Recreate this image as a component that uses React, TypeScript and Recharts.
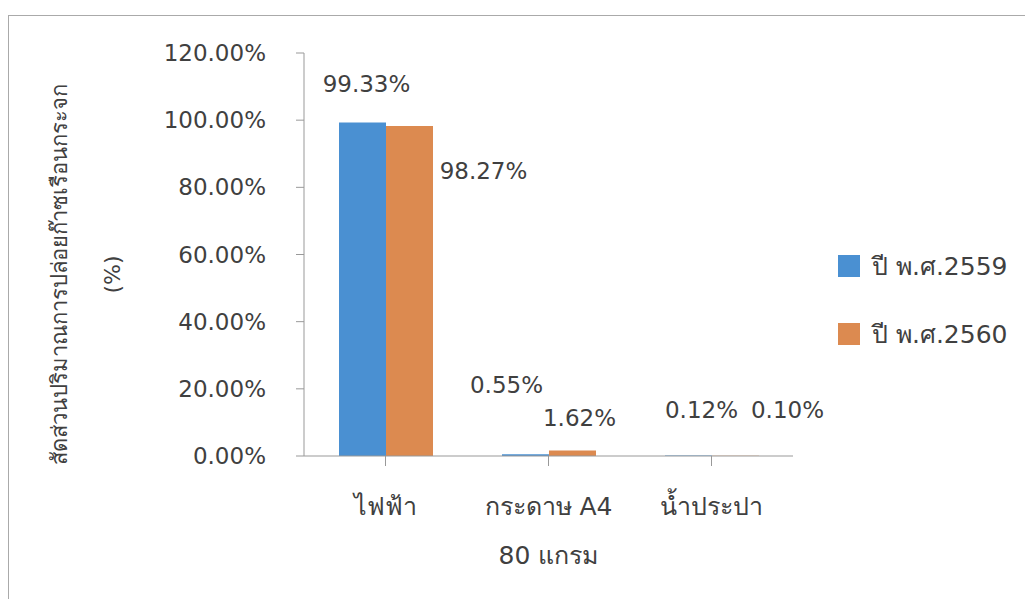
import React from "react";
import { BarChart, Bar, XAxis, YAxis, Legend, LabelList } from "recharts";

const categories = ["ไฟฟ้า", "กระดาษ A4|80 แกรม", "น้ำประปา"];
const series2559 = [99.33, 0.55, 0.12];
const series2560 = [98.27, 1.62, 0.1];
const seriesNames = ["ปี พ.ศ.2559", "ปี พ.ศ.2560"];
const yTicks = [0, 20, 40, 60, 80, 100, 120];
const yTitle = ["สัดส่วนปริมาณการปล่อยก๊าซเรือนกระจก", "(%)"];

const data = categories.map((c, i) => ({ name: c, a: series2559[i], b: series2560[i] }));

const COLORS = ["#4a90d2", "#dc8a50"];
const TEXT = "#404040";
const FONT = "'DejaVu Sans', 'Noto Sans', sans-serif";
const FS = 23;

// label offsets relative to bar center / bar top (layout only)
const offA = [
  [4, -38],
  [-19, -69],
  [13, -46],
];
const offB = [
  [74, 45],
  [7, -33],
  [52, -46],
];

const makeLabel = (offs: number[][]) => (props: any) => {
  const { x, y, width, value, index } = props;
  const [dx, dy] = offs[index] || [0, 0];
  return (
    <text
      x={Number(x) + Number(width) / 2 + dx}
      y={Number(y) + dy}
      textAnchor="middle"
      dominantBaseline="central"
      fill={TEXT}
      fontSize={FS}
      fontFamily={FONT}
    >
      {Number(value).toFixed(2) + "%"}
    </text>
  );
};

const XTick = (props: any) => {
  const { x, y, payload } = props;
  const lines = String(payload.value).split("|");
  return (
    <g>
      {lines.map((l, i) => (
        <text
          key={i}
          x={x}
          y={y + 38 + i * 49}
          textAnchor="middle"
          dominantBaseline="central"
          fill={TEXT}
          fontSize={25}
          fontFamily={FONT}
        >
          {l}
        </text>
      ))}
    </g>
  );
};

const YTitle = (props: any) => {
  const vb = props.viewBox || {};
  const cy = (vb.y ?? 53) + (vb.height ?? 403) / 2 + 20;
  return (
    <g>
      <text
        x={59}
        y={cy}
        transform={`rotate(-90, 59, ${cy})`}
        textAnchor="middle"
        dominantBaseline="central"
        fill={TEXT}
        fontSize={22}
        fontFamily={FONT}
      >
        {yTitle[0]}
      </text>
      <text
        x={112}
        y={cy}
        transform={`rotate(-90, 112, ${cy})`}
        textAnchor="middle"
        dominantBaseline="central"
        fill={TEXT}
        fontSize={22}
        fontFamily={FONT}
      >
        {yTitle[1]}
      </text>
    </g>
  );
};

const LegendContent = () => (
  <div style={{ paddingLeft: 45, fontFamily: FONT, fontSize: 25, color: TEXT }}>
    {seriesNames.map((n, i) => (
      <div key={n} style={{ display: "flex", alignItems: "center", height: 34, marginBottom: i === 0 ? 34 : 0 }}>
        <span style={{ display: "inline-block", width: 22, height: 22, background: COLORS[i], marginRight: 12 }} />
        <span>{n}</span>
      </div>
    ))}
  </div>
);

export default function App() {
  return (
    <div style={{ position: "absolute", left: 0, top: 0, width: 1025, height: 599, background: "#fff", overflow: "hidden" }}>
      <div
        style={{
          position: "absolute",
          left: 8,
          top: 15,
          width: 1100,
          height: 700,
          borderLeft: "1px solid #aaa",
          borderTop: "1px solid #aaa",
        }}
      />
      <div style={{ position: "absolute", left: 0, top: 0 }}>
        <BarChart
          width={1025}
          height={599}
          data={data}
          margin={{ top: 53, right: 13, bottom: 43, left: 0 }}
          barCategoryGap={35}
          barGap={0}
        >
          <XAxis
            dataKey="name"
            height={100}
            tick={<XTick />}
            tickLine={{ stroke: "#999" }}
            axisLine={{ stroke: "#999" }}
            tickSize={10}
            interval={0}
          />
          <YAxis
            width={304}
            domain={[0, 120]}
            ticks={yTicks}
            tickFormatter={(v: number) => v.toFixed(2) + "%"}
            tick={{ fill: TEXT, fontSize: FS, fontFamily: FONT }}
            tickLine={{ stroke: "#999" }}
            axisLine={{ stroke: "#999" }}
            tickSize={8}
            tickMargin={30}
            label={{ content: <YTitle /> } as any}
          />
          <Legend
            layout="vertical"
            align="right"
            verticalAlign="middle"
            wrapperStyle={{ width: 219 }}
            content={<LegendContent />}
          />
          <Bar dataKey="a" name={seriesNames[0]} fill={COLORS[0]} isAnimationActive={false}>
            <LabelList dataKey="a" content={makeLabel(offA)} />
          </Bar>
          <Bar dataKey="b" name={seriesNames[1]} fill={COLORS[1]} isAnimationActive={false}>
            <LabelList dataKey="b" content={makeLabel(offB)} />
          </Bar>
        </BarChart>
      </div>
    </div>
  );
}
